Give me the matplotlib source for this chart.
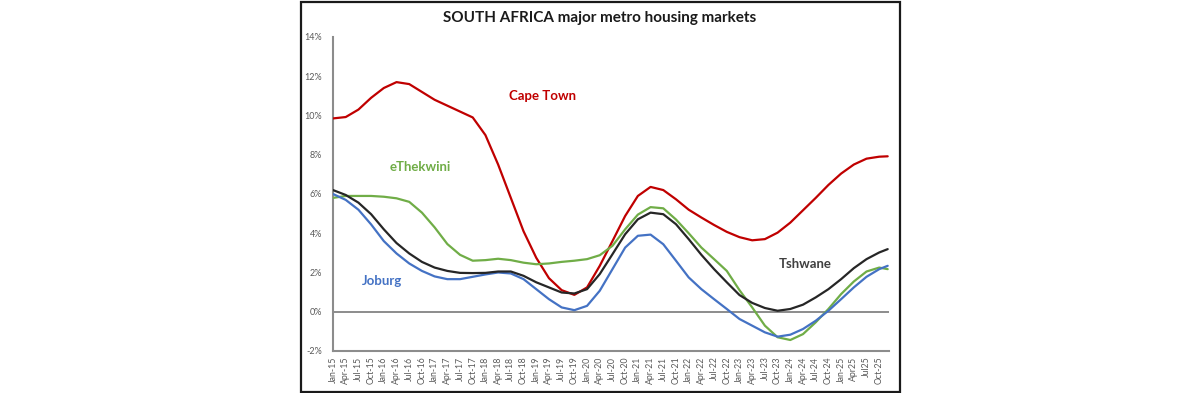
import matplotlib
matplotlib.use("Agg")
import matplotlib.pyplot as plt
from matplotlib.patches import Rectangle

# Month index (0 = Jan-15) of each read point: quarterly points plus Dec-25
months = [3 * q for q in range(44)] + [131]

cape_town = [9.85, 9.92, 10.3, 10.9, 11.4, 11.7, 11.6, 11.2, 10.8, 10.5,
             10.2, 9.9, 9.0, 7.5, 5.8, 4.1, 2.75, 1.71, 1.1, 0.86,
             1.24, 2.34, 3.6, 4.88, 5.9, 6.36, 6.2, 5.73, 5.2, 4.8,
             4.42, 4.07, 3.8, 3.64, 3.7, 4.03, 4.54, 5.17, 5.8, 6.46,
             7.04, 7.5, 7.8, 7.9, 7.92]

ethekwini = [5.8, 5.9, 5.9, 5.9, 5.86, 5.78, 5.6, 5.05, 4.3, 3.45,
             2.9, 2.6, 2.63, 2.7, 2.63, 2.5, 2.42, 2.46, 2.54, 2.6,
             2.68, 2.88, 3.36, 4.2, 4.95, 5.33, 5.27, 4.7, 4.0, 3.27,
             2.68, 2.08, 1.1, 0.22, -0.71, -1.3, -1.44, -1.14, -0.54, 0.14,
             0.9, 1.54, 2.05, 2.25, 2.17]

tshwane = [6.2, 5.95, 5.56, 4.97, 4.2, 3.5, 2.97, 2.54, 2.25, 2.08,
           1.98, 1.97, 1.98, 2.05, 2.05, 1.83, 1.5, 1.24, 0.98, 0.93,
           1.15, 1.92, 2.93, 3.95, 4.71, 5.05, 4.97, 4.46, 3.7, 2.9,
           2.17, 1.5, 0.85, 0.45, 0.19, 0.05, 0.14, 0.36, 0.73, 1.15,
           1.66, 2.22, 2.68, 3.02, 3.19]

joburg = [6.0, 5.7, 5.2, 4.45, 3.6, 2.97, 2.46, 2.08, 1.8, 1.66,
          1.66, 1.78, 1.9, 2.0, 1.95, 1.66, 1.15, 0.64, 0.22, 0.08,
          0.3, 1.07, 2.17, 3.27, 3.87, 3.93, 3.44, 2.6, 1.75, 1.15,
          0.64, 0.14, -0.37, -0.71, -1.05, -1.27, -1.17, -0.88, -0.46, 0.05,
          0.64, 1.24, 1.78, 2.17, 2.34]

tick_labels = []
for yr in range(15, 26):
    for mo in ["Jan", "Apr", "Jul", "Oct"]:
        tick_labels.append(f"{mo}-{yr}")
tick_labels[-3] = "Apr25"
tick_labels[-2] = "Jul25"
tick_months = [3 * q for q in range(44)]

y_ticks = [-2, 0, 2, 4, 6, 8, 10, 12, 14]
y_labels = [f"{v}%" for v in y_ticks]

title = "SOUTH AFRICA major metro housing markets"

RED = "#C00000"
GREEN = "#70AD47"
BLUE = "#4472C4"
BLACK = "#262626"
GRAY = "#8C8C8C"

plt.rcParams["font.family"] = ["Lato", "DejaVu Sans"]

fig = plt.figure(figsize=(12, 3.93), dpi=100)
fig.patch.set_facecolor("white")
fig.patches.append(Rectangle((0.2508, 0.003), 0.4992, 0.993, transform=fig.transFigure,
                             fill=False, edgecolor="#1a1a1a", linewidth=1.6))

ax = fig.add_axes([0.2775, 0.1069, 0.4633, 0.799])
ax.axhline(0, color=GRAY, linewidth=1.4, zorder=1)
line_kw = dict(linewidth=1.6, zorder=3, solid_joinstyle="round", solid_capstyle="round")
ax.plot(months, cape_town, color=RED, **line_kw)
ax.plot(months, ethekwini, color=GREEN, **line_kw)
ax.plot(months, joburg, color=BLUE, **line_kw)
ax.plot(months, tshwane, color=BLACK, **line_kw)

ax.set_xlim(0, 131.3)
ax.set_ylim(-2, 14)
ax.set_yticks(y_ticks)
ax.set_yticklabels(y_labels)
ax.set_xticks(tick_months)
ax.set_xticklabels(tick_labels, rotation=90)
ax.tick_params(axis="y", length=0, pad=8, labelsize=6.5, labelcolor="#595959")
ax.tick_params(axis="x", length=0, pad=4, labelsize=6.3, labelcolor="#595959")
for s in ["top", "right"]:
    ax.spines[s].set_visible(False)
for s in ["left", "bottom"]:
    ax.spines[s].set_color(GRAY)
    ax.spines[s].set_linewidth(1.5)

ax.text(49.5, 11.0, "Cape Town", color=RED, fontsize=9.5, fontweight="bold", ha="center", va="center")
ax.text(20.5, 7.4, "eThekwini", color=GREEN, fontsize=9.5, fontweight="bold", ha="center", va="center")
ax.text(11.5, 1.55, "Joburg", color=BLUE, fontsize=9.5, fontweight="bold", ha="center", va="center")
ax.text(111.5, 2.45, "Tshwane", color="#404040", fontsize=9.5, fontweight="bold", ha="center", va="center")

fig.text(0.5, 0.955, title, ha="center", va="center", fontsize=11, fontweight="bold", color="#1a1a1a")

fig.savefig("out.png", dpi=100, facecolor="white")
